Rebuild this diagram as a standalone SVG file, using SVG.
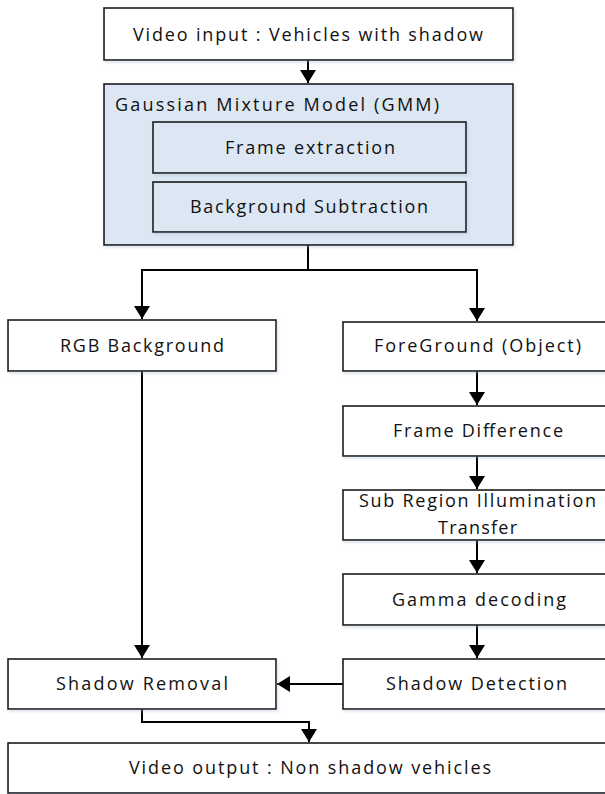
<svg xmlns="http://www.w3.org/2000/svg" width="605" height="794" viewBox="0 0 605 794">
  <defs>
    <marker id="arrow" markerUnits="userSpaceOnUse" markerWidth="15" markerHeight="16" refX="13" refY="8" orient="auto">
      <path d="M0,0 L13,8 L0,16 Z" fill="#000"/>
    </marker>
    <filter id="soft" x="-5%" y="-10%" width="115%" height="130%">
      <feDropShadow dx="1.5" dy="2" stdDeviation="1.5" flood-color="#9fb4cc" flood-opacity="0.35"/>
    </filter>
    <style>
      .box { fill: #ffffff; stroke: #1a1a1a; stroke-width: 1.6; filter: url(#soft); }
      .blue { fill: #dce7f3; stroke: #1a1a1a; stroke-width: 1.6; filter: url(#soft); }
      .lbl { font-family: "Open Sans", "Liberation Sans", sans-serif; font-size: 18px; fill: #111; }
      .mid { text-anchor: middle; }
      .wire { fill: none; stroke: #000; stroke-width: 2; }
      .arr { marker-end: url(#arrow); }
    </style>
  </defs>
  <rect width="605" height="794" fill="#ffffff"/>

  <!-- connectors -->
  <g id="connectors">
    <path class="wire arr" d="M308,60 V83"/>
    <path class="wire arr" d="M308,245 V270 H142 V319"/>
    <path class="wire arr" d="M308,270 H477 V321"/>
    <path class="wire arr" d="M477,371 V405"/>
    <path class="wire arr" d="M477,456 V489"/>
    <path class="wire arr" d="M477,540 V573"/>
    <path class="wire arr" d="M477,625 V658"/>
    <path class="wire arr" d="M142,371 V658"/>
    <path class="wire arr" d="M343,684 H277"/>
    <path class="wire arr" d="M142,709 V722 H309 V742"/>
  </g>

  <g id="video-input">
    <rect class="box" x="104" y="8" width="409" height="52"/>
    <text class="lbl mid" x="308" y="41" textLength="350" lengthAdjust="spacing">Video input : Vehicles with shadow</text>
  </g>

  <g id="gmm">
    <rect class="blue" x="104" y="84" width="409" height="161"/>
    <text class="lbl" x="115" y="111" textLength="324" lengthAdjust="spacing">Gaussian Mixture Model (GMM)</text>
  </g>

  <g id="frame-extraction">
    <rect class="blue" x="153" y="122" width="313" height="51"/>
    <text class="lbl mid" x="310" y="153.5" textLength="170" lengthAdjust="spacing">Frame extraction</text>
  </g>

  <g id="background-subtraction">
    <rect class="blue" x="153" y="182" width="313" height="50"/>
    <text class="lbl mid" x="309" y="213" textLength="238" lengthAdjust="spacing">Background Subtraction</text>
  </g>

  <g id="rgb-background">
    <rect class="box" x="8" y="320" width="268" height="51"/>
    <text class="lbl mid" x="142" y="351.5" textLength="164" lengthAdjust="spacing">RGB Background</text>
  </g>

  <g id="foreground">
    <rect class="box" x="343" y="322" width="269" height="49"/>
    <text class="lbl mid" x="477.5" y="351.5" textLength="207" lengthAdjust="spacing">ForeGround (Object)</text>
  </g>

  <g id="frame-difference">
    <rect class="box" x="343" y="406" width="269" height="50"/>
    <text class="lbl mid" x="478" y="437" textLength="170" lengthAdjust="spacing">Frame Difference</text>
  </g>

  <g id="illumination-transfer">
    <rect class="box" x="343" y="490" width="269" height="50"/>
    <text class="lbl mid" x="477.5" y="506.5" textLength="237" lengthAdjust="spacing">Sub Region Illumination</text>
    <text class="lbl mid" x="477.5" y="533.5" textLength="79" lengthAdjust="spacing">Transfer</text>
  </g>

  <g id="gamma-decoding">
    <rect class="box" x="343" y="574" width="269" height="51"/>
    <text class="lbl mid" x="479" y="605.5" textLength="174" lengthAdjust="spacing">Gamma decoding</text>
  </g>

  <g id="shadow-removal">
    <rect class="box" x="8" y="659" width="268" height="50"/>
    <text class="lbl mid" x="142" y="690" textLength="172" lengthAdjust="spacing">Shadow Removal</text>
  </g>

  <g id="shadow-detection">
    <rect class="box" x="343" y="659" width="269" height="50"/>
    <text class="lbl mid" x="476.5" y="690" textLength="181" lengthAdjust="spacing">Shadow Detection</text>
  </g>

  <g id="video-output">
    <rect class="box" x="8" y="743" width="604" height="50"/>
    <text class="lbl mid" x="310" y="774" textLength="362" lengthAdjust="spacing">Video output : Non shadow vehicles</text>
  </g>
</svg>
